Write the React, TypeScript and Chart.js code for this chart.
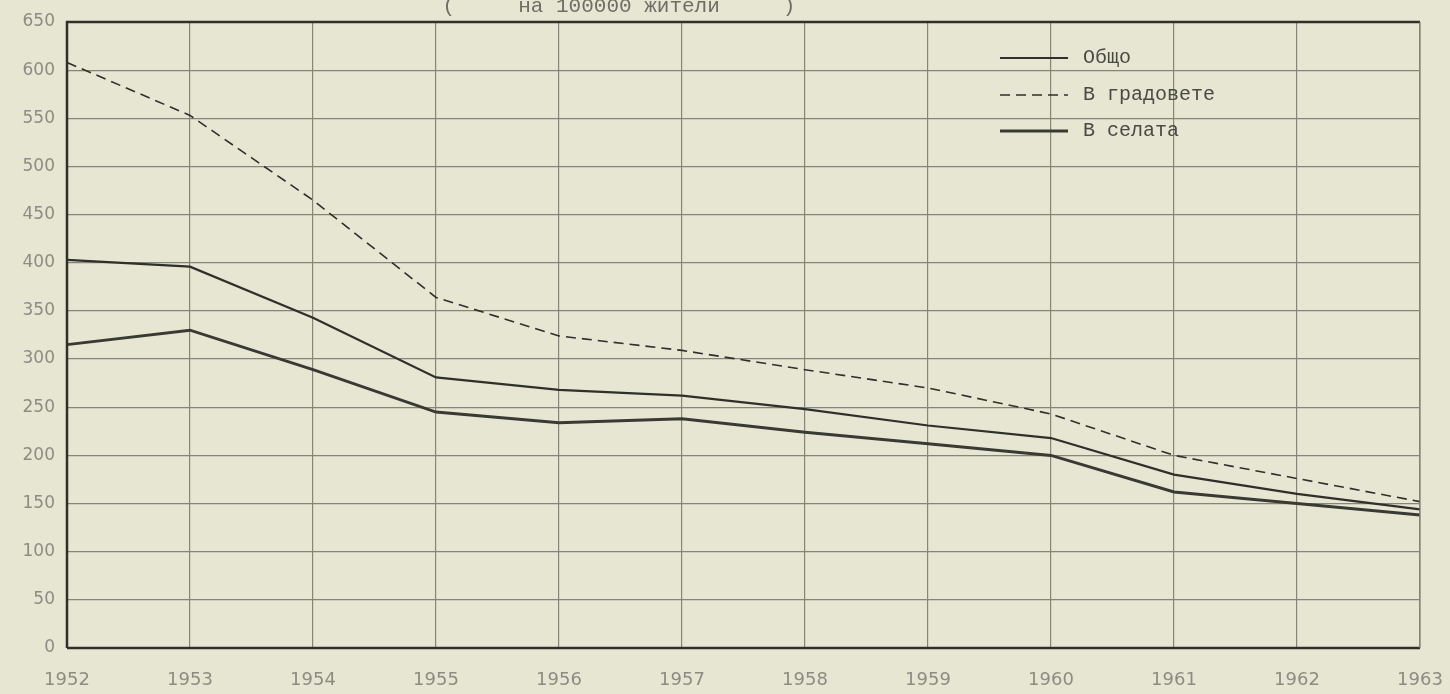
import React, { useEffect, useRef } from "react";
import { Chart, registerables } from "chart.js";

Chart.register(...registerables);

const years = ["1952", "1953", "1954", "1955", "1956", "1957", "1958", "1959", "1960", "1961", "1962", "1963"];
const total = [403, 396, 343, 281, 268, 262, 248, 231, 218, 180, 160, 144];
const cities = [608, 553, 465, 364, 324, 309, 289, 270, 243, 200, 176, 152];
const villages = [315, 330, 289, 245, 234, 238, 224, 212, 200, 162, 150, 138];
const seriesLabels = ["Общо", "В градовете", "В селата"];
const titleText = "(     на 100000 жители     )";

const PAPER = "#e7e6d3";
const INK = "#2f2f2b";
const GRID = "#85857a";
const LABEL = "#8c8c82";
const MONO = '"Liberation Mono", "DejaVu Sans Mono", monospace';

export default function App() {
  const ref = useRef<HTMLCanvasElement | null>(null);

  useEffect(() => {
    const canvas = ref.current;
    if (!canvas) return;

    const paperPlugin = {
      id: "paper",
      beforeDraw(chart: any) {
        const ctx = chart.ctx;
        ctx.save();
        ctx.fillStyle = PAPER;
        ctx.fillRect(0, 0, chart.width, chart.height);
        ctx.restore();
      },
    };

    const framePlugin = {
      id: "frame",
      afterDraw(chart: any) {
        const { ctx, chartArea: a } = chart;
        ctx.save();
        ctx.strokeStyle = INK;
        ctx.lineWidth = 2.5;
        ctx.beginPath();
        ctx.moveTo(a.left, a.bottom);
        ctx.lineTo(a.left, a.top);
        ctx.lineTo(a.right, a.top);
        ctx.moveTo(a.left, a.bottom);
        ctx.lineTo(a.right, a.bottom);
        ctx.stroke();
        ctx.strokeStyle = GRID;
        ctx.lineWidth = 1.2;
        ctx.beginPath();
        ctx.moveTo(a.right, a.top);
        ctx.lineTo(a.right, a.bottom);
        ctx.stroke();

        // title (partly cut off at the top, as in the scan)
        ctx.fillStyle = "#6e6e66";
        ctx.font = "21px " + MONO;
        ctx.textAlign = "center";
        ctx.textBaseline = "alphabetic";
        ctx.fillText(titleText, 619, 12);

        // legend
        const lx0 = 1000;
        const lx1 = 1068;
        const ys = [58, 95, 131];
        chart.data.datasets.forEach((ds: any, i: number) => {
          const y = ys[i];
          ctx.strokeStyle = ds.borderColor;
          ctx.lineWidth = ds.borderWidth;
          ctx.setLineDash(ds.borderDash || []);
          ctx.beginPath();
          ctx.moveTo(lx0, y);
          ctx.lineTo(lx1, y);
          ctx.stroke();
          ctx.setLineDash([]);
          ctx.fillStyle = "#4a4a44";
          ctx.textAlign = "left";
          ctx.textBaseline = "middle";
          ctx.font = "20px " + MONO;
          ctx.fillText(ds.label, 1083, y);
        });
        ctx.restore();
      },
    };

    const chart = new Chart(canvas, {
      type: "line",
      data: {
        labels: years,
        datasets: [
          {
            label: seriesLabels[0],
            data: total,
            borderColor: INK,
            borderWidth: 2.2,
            pointRadius: 0,
            tension: 0,
            fill: false,
          },
          {
            label: seriesLabels[1],
            data: cities,
            borderColor: INK,
            borderWidth: 1.6,
            borderDash: [10, 6],
            pointRadius: 0,
            tension: 0,
            fill: false,
          },
          {
            label: seriesLabels[2],
            data: villages,
            borderColor: "#3a3a35",
            borderWidth: 3,
            pointRadius: 0,
            tension: 0,
            fill: false,
          },
        ],
      },
      options: {
        responsive: false,
        animation: false,
        layout: { padding: { top: 22, right: 30, left: 0, bottom: 0 } },
        plugins: {
          legend: { display: false },
          title: { display: false },
          tooltip: { enabled: false },
        },
        scales: {
          x: {
            type: "category",
            offset: false,
            grid: { color: GRID, lineWidth: 1.2, drawTicks: false },
            border: { display: false },
            ticks: {
              color: LABEL,
              padding: 22,
              maxRotation: 0,
              autoSkip: false,
              font: { family: '"DejaVu Sans", sans-serif', size: 18 },
            },
            afterFit(scale: any) {
              scale.height = 46;
              scale.paddingLeft = 0;
              scale.paddingRight = 0;
            },
          },
          y: {
            min: 0,
            max: 650,
            grid: { color: GRID, lineWidth: 1.2, drawTicks: false },
            border: { display: false },
            ticks: {
              stepSize: 50,
              color: LABEL,
              padding: 12,
              font: { family: '"DejaVu Sans", sans-serif', size: 17 },
            },
            afterFit(scale: any) {
              scale.width = 67;
              scale.paddingTop = 0;
              scale.paddingBottom = 0;
            },
          },
        },
      },
      plugins: [paperPlugin, framePlugin],
    });

    return () => chart.destroy();
  }, []);

  return (
    <div style={{ position: "fixed", left: 0, top: 0, width: 1450, height: 694, background: PAPER }}>
      <canvas ref={ref} width={1450} height={694} style={{ display: "block" }} />
    </div>
  );
}
